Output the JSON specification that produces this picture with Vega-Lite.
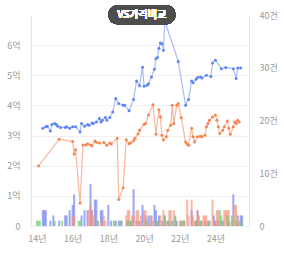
{
  "$schema": "https://vega.github.io/schema/vega-lite/v6.json",
  "width": 218,
  "height": 211,
  "autosize": {"type": "none"},
  "padding": {"left": 31, "top": 15, "right": 35, "bottom": 30},
  "background": "#ffffff",
  "config": {
    "view": {"stroke": null},
    "font": "Noto Sans CJK KR",
    "axis": {"labelFont": "Noto Sans CJK KR", "labelColor": "#9a9a9a", "labelFontSize": 9, "ticks": false, "title": null}
  },
  "datasets": {
    "counts": [
      {"date":"2014-05-01","kind":"매매","count":3},{"date":"2014-06-01","kind":"매매","count":3},{"date":"2014-07-01","kind":"매매","count":3},{"date":"2014-10-01","kind":"매매","count":1},{"date":"2014-12-01","kind":"매매","count":2},{"date":"2015-04-01","kind":"매매","count":1},{"date":"2015-08-01","kind":"매매","count":2},{"date":"2015-09-01","kind":"매매","count":2},{"date":"2015-11-01","kind":"매매","count":3},{"date":"2016-01-01","kind":"매매","count":4},{"date":"2016-02-01","kind":"매매","count":6},{"date":"2016-07-01","kind":"매매","count":2},{"date":"2016-09-01","kind":"매매","count":3},{"date":"2016-11-01","kind":"매매","count":3},{"date":"2017-01-01","kind":"매매","count":8},{"date":"2017-02-01","kind":"매매","count":3},{"date":"2017-04-01","kind":"매매","count":5},{"date":"2017-05-01","kind":"매매","count":5},{"date":"2017-08-01","kind":"매매","count":3},{"date":"2017-09-01","kind":"매매","count":3},{"date":"2018-01-01","kind":"매매","count":4},{"date":"2018-03-01","kind":"매매","count":1},{"date":"2018-06-01","kind":"매매","count":1},{"date":"2018-08-01","kind":"매매","count":1},{"date":"2018-10-01","kind":"매매","count":1},{"date":"2019-02-01","kind":"매매","count":1},{"date":"2019-04-01","kind":"매매","count":1},{"date":"2019-06-01","kind":"매매","count":7},{"date":"2019-08-01","kind":"매매","count":1},{"date":"2019-10-01","kind":"매매","count":1},{"date":"2019-12-01","kind":"매매","count":4},{"date":"2020-02-01","kind":"매매","count":2},{"date":"2020-04-01","kind":"매매","count":2},{"date":"2020-06-01","kind":"매매","count":2},{"date":"2020-08-01","kind":"매매","count":4},{"date":"2020-09-01","kind":"매매","count":3},{"date":"2020-11-01","kind":"매매","count":2},{"date":"2021-01-01","kind":"매매","count":1},{"date":"2021-03-01","kind":"매매","count":2},{"date":"2021-05-01","kind":"매매","count":1},{"date":"2021-08-01","kind":"매매","count":1},{"date":"2021-11-01","kind":"매매","count":1},{"date":"2022-02-01","kind":"매매","count":1},{"date":"2022-04-01","kind":"매매","count":1},{"date":"2022-09-01","kind":"매매","count":3},{"date":"2022-12-01","kind":"매매","count":1},{"date":"2023-01-01","kind":"매매","count":3},{"date":"2023-03-01","kind":"매매","count":1},{"date":"2023-06-01","kind":"매매","count":1},{"date":"2023-08-01","kind":"매매","count":1},{"date":"2023-12-01","kind":"매매","count":2},{"date":"2024-01-01","kind":"매매","count":1},{"date":"2024-03-01","kind":"매매","count":1},{"date":"2024-06-01","kind":"매매","count":1},{"date":"2024-10-01","kind":"매매","count":1},{"date":"2025-01-01","kind":"매매","count":6},{"date":"2025-04-01","kind":"매매","count":2},{"date":"2025-06-01","kind":"매매","count":2},{"date":"2025-07-01","kind":"매매","count":2},
      {"date":"2016-01-01","kind":"전세","count":2},{"date":"2016-02-01","kind":"전세","count":2},{"date":"2016-12-01","kind":"전세","count":3},{"date":"2017-01-01","kind":"전세","count":4},{"date":"2017-02-01","kind":"전세","count":3},{"date":"2017-03-01","kind":"전세","count":2},{"date":"2017-06-01","kind":"전세","count":1},{"date":"2017-09-01","kind":"전세","count":1},{"date":"2017-10-01","kind":"전세","count":2},{"date":"2017-11-01","kind":"전세","count":1},{"date":"2018-05-01","kind":"전세","count":1},{"date":"2018-09-01","kind":"전세","count":1},{"date":"2019-01-01","kind":"전세","count":2},{"date":"2019-02-01","kind":"전세","count":3},{"date":"2019-03-01","kind":"전세","count":3},{"date":"2019-05-01","kind":"전세","count":2},{"date":"2019-06-01","kind":"전세","count":2},{"date":"2019-08-01","kind":"전세","count":3},{"date":"2019-09-01","kind":"전세","count":3},{"date":"2019-11-01","kind":"전세","count":2},{"date":"2020-01-01","kind":"전세","count":3},{"date":"2020-02-01","kind":"전세","count":3},{"date":"2020-05-01","kind":"전세","count":2},{"date":"2020-07-01","kind":"전세","count":1},{"date":"2020-10-01","kind":"전세","count":1},{"date":"2020-12-01","kind":"전세","count":2},{"date":"2021-02-01","kind":"전세","count":3},{"date":"2021-04-01","kind":"전세","count":1},{"date":"2021-06-01","kind":"전세","count":3},{"date":"2021-07-01","kind":"전세","count":3},{"date":"2021-09-01","kind":"전세","count":3},{"date":"2021-10-01","kind":"전세","count":2},{"date":"2022-01-01","kind":"전세","count":1},{"date":"2022-03-01","kind":"전세","count":1},{"date":"2022-06-01","kind":"전세","count":5},{"date":"2022-07-01","kind":"전세","count":2},{"date":"2022-09-01","kind":"전세","count":5},{"date":"2022-10-01","kind":"전세","count":2},{"date":"2022-11-01","kind":"전세","count":1},{"date":"2023-01-01","kind":"전세","count":3},{"date":"2023-02-01","kind":"전세","count":2},{"date":"2023-04-01","kind":"전세","count":1},{"date":"2023-05-01","kind":"전세","count":2},{"date":"2023-06-01","kind":"전세","count":2},{"date":"2023-07-01","kind":"전세","count":2},{"date":"2023-09-01","kind":"전세","count":1},{"date":"2023-11-01","kind":"전세","count":5},{"date":"2024-01-01","kind":"전세","count":1},{"date":"2024-02-01","kind":"전세","count":3},{"date":"2024-03-01","kind":"전세","count":3},{"date":"2024-05-01","kind":"전세","count":1},{"date":"2024-07-01","kind":"전세","count":3},{"date":"2024-08-01","kind":"전세","count":3},{"date":"2024-09-01","kind":"전세","count":3},{"date":"2024-10-01","kind":"전세","count":3},{"date":"2024-12-01","kind":"전세","count":1},{"date":"2025-02-01","kind":"전세","count":4},{"date":"2025-03-01","kind":"전세","count":4},{"date":"2025-05-01","kind":"전세","count":1},
      {"date":"2014-01-01","kind":"월세","count":1},{"date":"2014-02-01","kind":"월세","count":1},{"date":"2014-03-01","kind":"월세","count":1},{"date":"2015-01-01","kind":"월세","count":1},{"date":"2015-06-01","kind":"월세","count":1},{"date":"2016-05-01","kind":"월세","count":1},{"date":"2016-06-01","kind":"월세","count":1},{"date":"2017-06-01","kind":"월세","count":1},{"date":"2018-05-01","kind":"월세","count":1},{"date":"2018-09-01","kind":"월세","count":1},{"date":"2019-02-01","kind":"월세","count":1},{"date":"2019-04-01","kind":"월세","count":1},{"date":"2020-03-01","kind":"월세","count":1},{"date":"2020-10-01","kind":"월세","count":1},{"date":"2021-03-01","kind":"월세","count":2},{"date":"2021-06-01","kind":"월세","count":1},{"date":"2021-10-01","kind":"월세","count":2},{"date":"2022-02-01","kind":"월세","count":1},{"date":"2022-04-01","kind":"월세","count":1},{"date":"2022-12-01","kind":"월세","count":1},{"date":"2023-03-01","kind":"월세","count":1},{"date":"2023-09-01","kind":"월세","count":1},{"date":"2024-04-01","kind":"월세","count":3},{"date":"2024-05-01","kind":"월세","count":2},{"date":"2024-09-01","kind":"월세","count":2},{"date":"2024-12-01","kind":"월세","count":2},{"date":"2025-03-01","kind":"월세","count":1},{"date":"2025-06-01","kind":"월세","count":1}
    ],
    "prices": [
      {"date":"2014-05-01","kind":"매매","price":3.24},{"date":"2014-07-01","kind":"매매","price":3.29},{"date":"2014-08-01","kind":"매매","price":3.31},{"date":"2014-10-01","kind":"매매","price":3.15},{"date":"2014-11-01","kind":"매매","price":3.37},{"date":"2015-01-01","kind":"매매","price":3.40},{"date":"2015-02-01","kind":"매매","price":3.37},{"date":"2015-03-01","kind":"매매","price":3.31},{"date":"2015-05-01","kind":"매매","price":3.27},{"date":"2015-08-01","kind":"매매","price":3.27},{"date":"2015-09-01","kind":"매매","price":3.29},{"date":"2015-11-01","kind":"매매","price":3.24},{"date":"2016-01-01","kind":"매매","price":3.29},{"date":"2016-03-01","kind":"매매","price":3.29},{"date":"2016-06-01","kind":"매매","price":3.12},{"date":"2016-07-01","kind":"매매","price":3.40},{"date":"2016-09-01","kind":"매매","price":3.31},{"date":"2016-11-01","kind":"매매","price":3.37},{"date":"2016-12-01","kind":"매매","price":3.34},{"date":"2017-02-01","kind":"매매","price":3.42},{"date":"2017-03-01","kind":"매매","price":3.40},{"date":"2017-05-01","kind":"매매","price":3.45},{"date":"2017-07-01","kind":"매매","price":3.57},{"date":"2017-08-01","kind":"매매","price":3.45},{"date":"2017-09-01","kind":"매매","price":3.51},{"date":"2017-11-01","kind":"매매","price":3.60},{"date":"2017-12-01","kind":"매매","price":3.51},{"date":"2018-02-01","kind":"매매","price":3.60},{"date":"2018-04-01","kind":"매매","price":3.78},{"date":"2018-06-01","kind":"매매","price":4.23},{"date":"2018-08-01","kind":"매매","price":4.06},{"date":"2018-11-01","kind":"매매","price":4.01},{"date":"2018-12-01","kind":"매매","price":4.01},{"date":"2019-03-01","kind":"매매","price":3.82},{"date":"2019-06-01","kind":"매매","price":4.20},{"date":"2019-08-01","kind":"매매","price":4.81},{"date":"2019-10-01","kind":"매매","price":4.65},{"date":"2019-12-01","kind":"매매","price":5.27},{"date":"2020-01-01","kind":"매매","price":4.64},{"date":"2020-03-01","kind":"매매","price":4.67},{"date":"2020-04-01","kind":"매매","price":4.72},{"date":"2020-06-01","kind":"매매","price":4.94},{"date":"2020-08-01","kind":"매매","price":5.20},{"date":"2020-09-01","kind":"매매","price":5.55},{"date":"2020-10-01","kind":"매매","price":5.59},{"date":"2020-11-01","kind":"매매","price":5.90},{"date":"2020-12-01","kind":"매매","price":6.07},{"date":"2021-01-01","kind":"매매","price":6.05},{"date":"2021-02-01","kind":"매매","price":5.83},{"date":"2021-03-01","kind":"매매","price":6.80},{"date":"2021-12-01","kind":"매매","price":5.46},{"date":"2022-05-01","kind":"매매","price":4.01},{"date":"2022-07-01","kind":"매매","price":4.20},{"date":"2022-09-01","kind":"매매","price":4.81},{"date":"2022-10-01","kind":"매매","price":4.75},{"date":"2022-12-01","kind":"매매","price":4.87},{"date":"2023-01-01","kind":"매매","price":4.93},{"date":"2023-03-01","kind":"매매","price":4.94},{"date":"2023-04-01","kind":"매매","price":4.91},{"date":"2023-07-01","kind":"매매","price":5.00},{"date":"2023-10-01","kind":"매매","price":4.96},{"date":"2023-11-01","kind":"매매","price":5.41},{"date":"2024-01-01","kind":"매매","price":5.50},{"date":"2024-05-01","kind":"매매","price":5.22},{"date":"2024-08-01","kind":"매매","price":5.26},{"date":"2025-01-01","kind":"매매","price":5.22},{"date":"2025-03-01","kind":"매매","price":4.89},{"date":"2025-04-01","kind":"매매","price":5.24},{"date":"2025-06-01","kind":"매매","price":5.24},
      {"date":"2014-02-01","kind":"전세","price":1.99},{"date":"2015-04-01","kind":"전세","price":2.88},{"date":"2016-01-01","kind":"전세","price":2.80},{"date":"2016-02-01","kind":"전세","price":2.39},{"date":"2016-03-01","kind":"전세","price":2.53},{"date":"2016-06-01","kind":"전세","price":0.76},{"date":"2016-08-01","kind":"전세","price":2.69},{"date":"2016-10-01","kind":"전세","price":2.69},{"date":"2016-11-01","kind":"전세","price":2.73},{"date":"2017-01-01","kind":"전세","price":2.69},{"date":"2017-02-01","kind":"전세","price":2.66},{"date":"2017-04-01","kind":"전세","price":2.82},{"date":"2017-05-01","kind":"전세","price":2.78},{"date":"2017-07-01","kind":"전세","price":2.75},{"date":"2017-10-01","kind":"전세","price":2.77},{"date":"2017-12-01","kind":"전세","price":2.68},{"date":"2018-02-01","kind":"전세","price":2.75},{"date":"2018-03-01","kind":"전세","price":2.72},{"date":"2018-07-01","kind":"전세","price":2.91},{"date":"2018-08-01","kind":"전세","price":0.88},{"date":"2018-11-01","kind":"전세","price":1.27},{"date":"2019-01-01","kind":"전세","price":2.86},{"date":"2019-03-01","kind":"전세","price":2.73},{"date":"2019-04-01","kind":"전세","price":2.76},{"date":"2019-06-01","kind":"전세","price":2.83},{"date":"2019-07-01","kind":"전세","price":2.91},{"date":"2019-09-01","kind":"전세","price":3.05},{"date":"2019-10-01","kind":"전세","price":3.18},{"date":"2020-01-01","kind":"전세","price":3.37},{"date":"2020-02-01","kind":"전세","price":3.40},{"date":"2020-04-01","kind":"전세","price":3.68},{"date":"2020-07-01","kind":"전세","price":4.02},{"date":"2020-09-01","kind":"전세","price":3.04},{"date":"2020-11-01","kind":"전세","price":3.86},{"date":"2020-12-01","kind":"전세","price":3.62},{"date":"2021-01-01","kind":"전세","price":3.01},{"date":"2021-02-01","kind":"전세","price":2.85},{"date":"2021-04-01","kind":"전세","price":2.96},{"date":"2021-05-01","kind":"전세","price":3.18},{"date":"2021-07-01","kind":"전세","price":3.34},{"date":"2021-08-01","kind":"전세","price":4.01},{"date":"2021-09-01","kind":"전세","price":3.40},{"date":"2021-11-01","kind":"전세","price":4.01},{"date":"2021-12-01","kind":"전세","price":4.06},{"date":"2022-02-01","kind":"전세","price":3.59},{"date":"2022-05-01","kind":"전세","price":2.79},{"date":"2022-06-01","kind":"전세","price":2.72},{"date":"2022-07-01","kind":"전세","price":2.68},{"date":"2022-09-01","kind":"전세","price":3.24},{"date":"2022-10-01","kind":"전세","price":2.96},{"date":"2022-11-01","kind":"전세","price":2.79},{"date":"2023-01-01","kind":"전세","price":2.96},{"date":"2023-03-01","kind":"전세","price":2.98},{"date":"2023-04-01","kind":"전세","price":2.96},{"date":"2023-06-01","kind":"전세","price":3.01},{"date":"2023-07-01","kind":"전세","price":3.29},{"date":"2023-08-01","kind":"전세","price":3.40},{"date":"2023-09-01","kind":"전세","price":3.51},{"date":"2023-11-01","kind":"전세","price":3.62},{"date":"2024-01-01","kind":"전세","price":3.68},{"date":"2024-02-01","kind":"전세","price":3.51},{"date":"2024-03-01","kind":"전세","price":3.29},{"date":"2024-04-01","kind":"전세","price":3.07},{"date":"2024-06-01","kind":"전세","price":3.18},{"date":"2024-07-01","kind":"전세","price":3.29},{"date":"2024-09-01","kind":"전세","price":3.48},{"date":"2024-10-01","kind":"전세","price":3.24},{"date":"2024-11-01","kind":"전세","price":3.04},{"date":"2025-01-01","kind":"전세","price":3.29},{"date":"2025-02-01","kind":"전세","price":3.45},{"date":"2025-03-01","kind":"전세","price":3.40},{"date":"2025-04-01","kind":"전세","price":3.51},{"date":"2025-05-01","kind":"전세","price":3.45}
    ]
  },
  "encoding": {
    "x": {
      "field": "date", "type": "temporal",
      "scale": {"domain": [{"year": 2013, "month": 12, "date": 12, "utc": true}, {"year": 2025, "month": 8, "date": 8, "utc": true}]},
      "axis": {
        "values": [{"year": 2014, "month": 1, "date": 1, "utc": true}, {"year": 2016, "month": 1, "date": 1, "utc": true}, {"year": 2018, "month": 1, "date": 1, "utc": true}, {"year": 2020, "month": 1, "date": 1, "utc": true}, {"year": 2022, "month": 1, "date": 1, "utc": true}, {"year": 2024, "month": 1, "date": 1, "utc": true}],
        "labelExpr": "utcFormat(datum.value, '%y') + '년'",
        "domain": false, "grid": false, "labelPadding": 8
      }
    }
  },
  "layer": [
    {
      "data": {"name": "counts"},
      "mark": {"type": "bar", "width": 2, "opacity": 0.68},
      "encoding": {
        "y": {
          "field": "count", "type": "quantitative", "stack": null,
          "scale": {"domain": [0, 40]},
          "axis": {"orient": "right", "values": [0, 10, 20, 30, 40], "labelExpr": "datum.value == 0 ? '0' : datum.value + '건'", "grid": false, "domain": true, "domainColor": "#e8e8e8", "labelPadding": 10}
        },
        "color": {"field": "kind", "type": "nominal", "scale": {"domain": ["매매", "전세", "월세"], "range": ["#6e80f2", "#f7937c", "#6fcf6f"]}, "legend": null}
      }
    },
    {
      "data": {"name": "prices"},
      "encoding": {
        "y": {
          "field": "price", "type": "quantitative",
          "scale": {"domain": [0, 7]},
          "axis": {"orient": "left", "values": [0, 1, 2, 3, 4, 5, 6], "labelExpr": "datum.value == 0 ? '0' : datum.value + '억'", "grid": true, "gridColor": "#efefef", "domain": true, "domainColor": "#e8e8e8", "labelPadding": 11}
        }
      },
      "layer": [
        {"transform": [{"filter": "datum.kind == '매매'"}], "mark": {"type": "line", "color": "#a9bdf9", "strokeWidth": 1.2}},
        {"transform": [{"filter": "datum.kind == '매매'"}], "mark": {"type": "point", "filled": true, "color": "#5a86f4", "size": 9, "opacity": 1}},
        {"transform": [{"filter": "datum.kind == '전세'"}], "mark": {"type": "line", "color": "#f9b69c", "strokeWidth": 1.2}},
        {"transform": [{"filter": "datum.kind == '전세'"}], "mark": {"type": "point", "filled": true, "color": "#f4854f", "size": 9, "opacity": 1}},
        {
          "mark": {"type": "rect", "color": "#4d4d4d", "cornerRadius": 9},
          "encoding": {
            "x": {"datum": {"year": 2018, "month": 1, "date": 4, "utc": true}, "type": "temporal"},
            "x2": {"datum": {"year": 2021, "month": 10, "date": 1, "utc": true}},
            "y": {"datum": 7.32, "type": "quantitative"},
            "y2": {"datum": 6.69}
          }
        },
        {
          "mark": {"type": "text", "text": "VS가격비교", "color": "#ffffff", "fontSize": 10, "fontWeight": 500, "font": "Noto Sans CJK KR", "baseline": "middle", "align": "center"},
          "encoding": {
            "x": {"datum": {"year": 2019, "month": 11, "date": 16, "utc": true}, "type": "temporal"},
            "y": {"datum": 7.0, "type": "quantitative"}
          }
        }
      ]
    }
  ],
  "resolve": {"scale": {"y": "independent"}}
}
